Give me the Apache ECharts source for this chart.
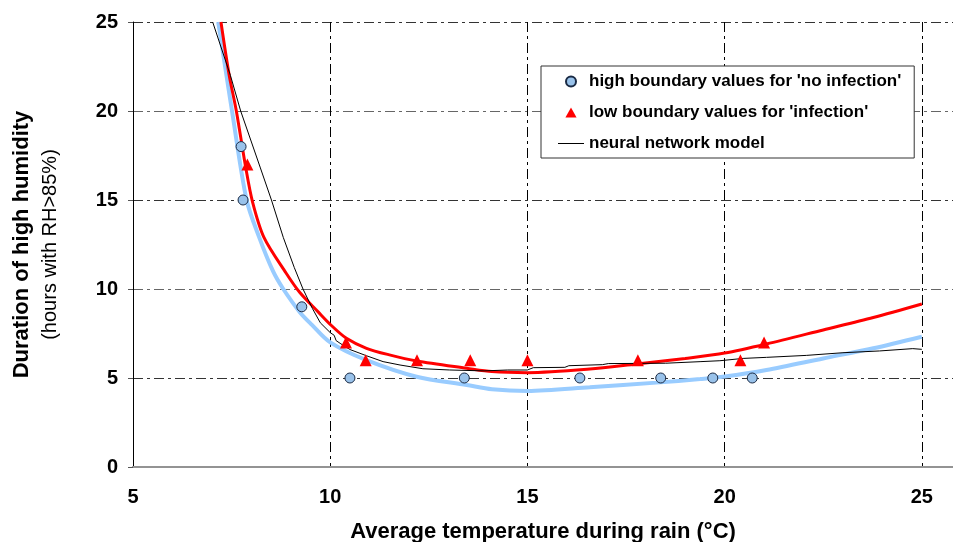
<!DOCTYPE html>
<html>
<head>
<meta charset="utf-8">
<script src="https://cdn.jsdelivr.net/npm/echarts@6/dist/echarts.min.js"></script>
<style>
  html, body { margin: 0; padding: 0; background: #fff; }
  #chart { width: 953px; height: 542px; }
</style>
</head>
<body>
<div id="chart"></div>
<script>
// observed boundary points
const noInfX = [7.74, 7.79, 9.28, 10.5, 13.4, 16.33, 18.38, 19.7, 20.7];
const noInfY = [18, 15, 9, 5, 5, 5, 5, 5, 5];
const infX = [7.9, 10.4, 10.9, 12.2, 13.55, 15.0, 17.8, 20.4, 21.0];
const infY = [17, 7, 6, 6, 6, 6, 6, 6, 7];

// fitted curves
const redX = [7.23, 7.44, 7.62, 7.86, 8.03, 8.32, 8.88, 9.23, 9.7, 10.03, 10.4, 10.92, 11.5, 12.19, 13.46, 14.1, 15.0, 16.58, 17.77, 19.0, 20.0, 21.06, 22.5, 23.77, 25.0];
const redY = [25, 22, 20, 16.8, 14.9, 12.9, 10.9, 9.8, 8.7, 7.95, 7.25, 6.67, 6.3, 5.96, 5.55, 5.36, 5.3, 5.5, 5.79, 6.1, 6.4, 6.91, 7.7, 8.4, 9.16];
const blueX = [7.16, 7.37, 7.51, 7.88, 8.2, 8.55, 8.81, 9.23, 9.53, 10.0, 10.92, 12.19, 13.46, 14.1, 15.0, 16.58, 18.27, 19.38, 20.0, 21.06, 22.5, 23.77, 25.0];
const blueY = [25, 22, 20, 15, 12.9, 11.0, 10, 8.7, 8.0, 7.0, 6.0, 5.07, 4.61, 4.37, 4.27, 4.48, 4.74, 4.94, 5.08, 5.45, 6.1, 6.67, 7.32];

// neural network model
const nnX = [7.02, 7.47, 7.73, 8.23, 8.51, 8.81, 9.09, 9.31, 9.55, 9.75, 10.0, 10.1, 10.15, 10.25, 10.5, 10.92, 11.34, 11.77, 12.35, 13.03, 13.9, 14.5, 15.0, 15.15, 15.95, 16.05, 16.9, 17.05, 18.5, 19.4, 19.88, 20.47, 21.06, 22.07, 23.0, 23.93, 24.77, 25.0];
const nnY = [25, 22, 20, 16.8, 15, 12.9, 11.2, 10, 8.9, 8.1, 7.55, 7.4, 7.1, 6.95, 6.6, 6.25, 5.92, 5.73, 5.52, 5.45, 5.4, 5.45, 5.45, 5.58, 5.6, 5.69, 5.75, 5.81, 5.83, 5.92, 5.97, 6.1, 6.16, 6.27, 6.42, 6.52, 6.65, 6.61];

const xTicks = [5, 10, 15, 20, 25];

const NO_INF = "high boundary values for 'no infection'";
const INF = "low boundary values for 'infection'";
const NN = 'neural network model';

const zip = (xs, ys) => xs.map((x, i) => [x, ys[i]]);

const FONT = '"Liberation Sans", Arial, sans-serif';
const DASH_DOT = [10, 4, 3, 4];

const chart = echarts.init(document.getElementById('chart'));

chart.setOption({
  animation: false,
  grid: { left: 133, right: 0, top: 22, bottom: 75, outerBoundsMode: 'none', containLabel: false },
  legend: {
    data: [
      { name: NO_INF, icon: 'circle' },
      { name: INF, icon: 'path://M5,0 L10,9 L0,9 Z' },
      { name: NN, icon: 'path://M0,0 L26,0 L26,1 L0,1 Z', itemStyle: { color: '#000' } },
    ],
    orient: 'vertical',
    left: 541,
    top: 66,
    padding: [7, 13, 6, 17],
    itemWidth: 26,
    itemHeight: 10,
    itemGap: 14,
    symbolKeepAspect: true,
    borderColor: '#333',
    borderWidth: 1,
    backgroundColor: '#fff',
    textStyle: { fontFamily: FONT, fontSize: 17, fontWeight: 'bold', color: '#000' },
  },
  xAxis: [
    {
      type: 'value',
      min: 5,
      max: 25.79,
      interval: 5,
      name: 'Average temperature during rain (°C)',
      nameLocation: 'middle',
      nameGap: 54,
      nameTextStyle: { fontFamily: FONT, fontSize: 22, fontWeight: 'bold', color: '#000' },
      axisLine: { onZero: false, lineStyle: { color: '#808080', width: 2 } },
      axisTick: { show: false },
      axisLabel: {
        margin: 20,
        fontFamily: FONT,
        fontSize: 20,
        fontWeight: 'bold',
        color: '#000',
        showMaxLabel: false,
        formatter: (v) => (xTicks.includes(v) ? String(v) : ''),
      },
      splitLine: { lineStyle: { color: '#000', width: 1, type: DASH_DOT } },
    },
    {
      type: 'value',
      position: 'top',
      min: 5,
      max: 25.79,
      interval: 5,
      axisLine: { lineStyle: { color: '#999', width: 1.5 } },
      axisTick: { show: false },
      axisLabel: { show: false },
      splitLine: { show: false },
    },
  ],
  yAxis: {
    type: 'value',
    min: 0,
    max: 25,
    interval: 5,
    name: '{a|Duration of high humidity}\n{b|(hours with RH>85%)}',
    nameLocation: 'middle',
    nameGap: 69,
    nameTextStyle: {
      rich: {
        a: { fontFamily: FONT, fontSize: 22, fontWeight: 'bold', color: '#000', lineHeight: 28 },
        b: { fontFamily: FONT, fontSize: 20, color: '#000', lineHeight: 28 },
      },
    },
    axisLine: { show: true, lineStyle: { color: '#000', width: 1 } },
    axisTick: { show: true, length: 5, lineStyle: { color: '#555' } },
    axisLabel: { margin: 15, fontFamily: FONT, fontSize: 20, fontWeight: 'bold', color: '#000' },
    splitLine: { lineStyle: { color: ['#333', '#333', '#666', '#333', '#666', '#333'], width: 1, type: DASH_DOT } },
  },
  series: [
    {
      name: 'fit no infection',
      type: 'line',
      data: zip(blueX, blueY),
      smooth: 0.3,
      symbol: 'none',
      lineStyle: { color: '#99CCFF', width: 4 },
      z: 3,
    },
    {
      name: 'fit infection',
      type: 'line',
      data: zip(redX, redY),
      smooth: 0.3,
      symbol: 'none',
      lineStyle: { color: '#FF0000', width: 3 },
      z: 4,
    },
    {
      name: NN,
      type: 'line',
      data: zip(nnX, nnY),
      symbol: 'none',
      showSymbol: false,
      itemStyle: { color: '#000' },
      lineStyle: { color: '#000', width: 1 },
      z: 5,
    },
    {
      name: NO_INF,
      type: 'scatter',
      data: zip(noInfX, noInfY),
      symbol: 'circle',
      symbolSize: 10,
      itemStyle: { color: '#99C2EA', borderColor: '#1a2a44', borderWidth: 1, opacity: 1 },
      z: 6,
    },
    {
      name: INF,
      type: 'scatter',
      data: zip(infX, infY),
      symbol: 'triangle',
      symbolSize: 12,
      itemStyle: { color: '#FF0000', opacity: 1 },
      z: 6,
    },
  ],
});
</script>
</body>
</html>
